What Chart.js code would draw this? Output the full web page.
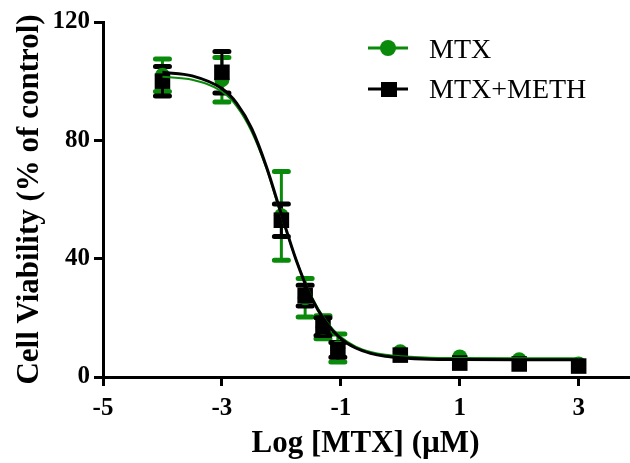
<!DOCTYPE html>
<html>
<head>
<meta charset="utf-8">
<script src="https://cdn.jsdelivr.net/npm/chart.js@4"></script>
<style>
  body { margin: 0; background: #fff; }
  #wrap { width: 630px; height: 463px; overflow: hidden; }
</style>
</head>
<body>
<div id="wrap"><canvas id="myChart" width="639" height="463"></canvas></div>
<script>
// measured points (log dose, mean, sd)
var doseX = [-4, -3, -2, -1.6, -1.3, -1.05, 0, 1, 2, 3];
var mtxY = [102, 100.5, 54.5, 26.8, 16.8, 9.8, 8.5, 6.8, 5.8, 4.4];
var mtxErr = [5.5, 7.5, 15, 6.5, 3.9, 4.7, 0, 0, 0, 0];
var methY = [100, 103, 53, 27.5, 17, 9.2, 7.4, 4.7, 4.4, 3.7];
var methErr = [5, 7, 5.5, 3.5, 3, 2.5, 0, 0, 0, 0];

// fitted curves
var curveX = [-4, -3.5, -3, -2.75, -2.5, -2.25, -2, -1.75, -1.5, -1.25, -1, -0.75, -0.5, -0.25, 0, 0.5, 1, 2, 3];
var mtxCurve = [101.5, 100.5, 96.5, 91.5, 83, 70.5, 54.5, 39.5, 27.5, 19, 13.5, 10.3, 8.5, 7.5, 7, 6.5, 6.4, 6.3, 6.3];
var methCurve = [103, 101.8, 97.5, 92.5, 84, 71, 55, 39.5, 27, 18.5, 13, 9.8, 8, 7, 6.5, 6, 5.9, 5.8, 5.8];

var xTickVals = [-5, -3, -1, 1, 3];
var yTickVals = [0, 40, 80, 120];

var green = '#0a8a0a';
var serif = '"Liberation Serif", "Times New Roman", serif';

function pts(xs, ys) {
  var out = [];
  for (var i = 0; i < xs.length; i++) out.push({x: xs[i], y: ys[i]});
  return out;
}

var errorBars = {
  id: 'errorBars',
  beforeDatasetsDraw: function(chart) {
    var ctx = chart.ctx;
    var xs = chart.scales.x, ys = chart.scales.y;
    var sets = [[mtxY, mtxErr, green], [methY, methErr, '#000']];
    sets.forEach(function(s) {
      ctx.save();
      ctx.strokeStyle = s[2];
      for (var i = 0; i < doseX.length; i++) {
        if (!s[1][i]) continue;
        var px = xs.getPixelForValue(doseX[i]);
        var top = ys.getPixelForValue(s[0][i] + s[1][i]);
        var bot = ys.getPixelForValue(s[0][i] - s[1][i]);
        ctx.lineWidth = 3;
        ctx.beginPath();
        ctx.moveTo(px, top); ctx.lineTo(px, bot);
        ctx.stroke();
        ctx.lineWidth = 5;
        ctx.lineCap = 'round';
        ctx.beginPath();
        ctx.moveTo(px - 7, top); ctx.lineTo(px + 7, top);
        ctx.moveTo(px - 7, bot); ctx.lineTo(px + 7, bot);
        ctx.stroke();
      }
      ctx.restore();
    });
  }
};

var legendDraw = {
  id: 'legendDraw',
  afterDraw: function(chart) {
    var ctx = chart.ctx;
    ctx.save();
    ctx.lineWidth = 3;
    ctx.strokeStyle = green; ctx.fillStyle = green;
    ctx.beginPath(); ctx.moveTo(368, 48); ctx.lineTo(408, 48); ctx.stroke();
    ctx.beginPath(); ctx.arc(388, 48, 8, 0, Math.PI * 2); ctx.fill();
    ctx.strokeStyle = '#000'; ctx.fillStyle = '#000';
    ctx.beginPath(); ctx.moveTo(368, 89); ctx.lineTo(408, 89); ctx.stroke();
    ctx.fillRect(381, 82, 16, 15);
    ctx.font = '28px ' + serif;
    ctx.textBaseline = 'alphabetic';
    ctx.fillText('MTX', 429, 58);
    ctx.fillText('MTX+METH', 429, 98);
    ctx.restore();
  }
};

var ctx = document.getElementById('myChart').getContext('2d');
var myChart = new Chart(ctx, {
  type: 'scatter',
  data: {
    datasets: [
      { label: 'MTX+METH fit', data: pts(curveX, methCurve), showLine: true, pointRadius: 0,
        borderColor: '#000', borderWidth: 3, cubicInterpolationMode: 'monotone', order: 0 },
      { label: 'MTX fit', data: pts(curveX, mtxCurve), showLine: true, pointRadius: 0,
        borderColor: green, borderWidth: 2, cubicInterpolationMode: 'monotone', order: 1 },
      { label: 'MTX+METH', data: pts(doseX, methY), pointStyle: 'rect', pointRadius: 11,
        backgroundColor: '#000', borderColor: '#000', borderWidth: 0, order: 2 },
      { label: 'MTX', data: pts(doseX, mtxY), pointStyle: 'circle', pointRadius: 7.5,
        backgroundColor: green, borderColor: green, borderWidth: 0, order: 3 }
    ]
  },
  options: {
    responsive: false,
    animation: false,
    layout: { padding: { top: 22, right: 0, left: 0, bottom: 0 } },
    plugins: { legend: { display: false }, tooltip: { enabled: false } },
    scales: {
      x: {
        type: 'linear', min: -5, max: 3.83,
        afterBuildTicks: function(s) { s.ticks = xTickVals.map(function(v) { return {value: v}; }); },
        afterFit: function(s) { s.height = 86; },
        grid: { drawOnChartArea: false, drawTicks: true, tickLength: 9, color: '#000', lineWidth: 3 },
        border: { color: '#000', width: 3 },
        ticks: { color: '#000', padding: 8, maxRotation: 0,
          font: { family: serif, size: 25, weight: 'bold' } },
        title: { display: true, text: 'Log [MTX] (\u00b5M)', color: '#000', padding: { top: 0, bottom: 0 },
          font: { family: serif, size: 31, weight: 'bold' } }
      },
      y: {
        min: 0, max: 120,
        afterBuildTicks: function(s) { s.ticks = yTickVals.map(function(v) { return {value: v}; }); },
        afterFit: function(s) { s.width = 103; },
        grid: { drawOnChartArea: false, drawTicks: true, tickLength: 9, color: '#000', lineWidth: 3 },
        border: { color: '#000', width: 3 },
        ticks: { color: '#000', padding: 4,
          font: { family: serif, size: 25, weight: 'bold' } },
        title: { display: true, text: 'Cell Viability (% of control)', color: '#000', padding: { top: 11, bottom: 0 },
          font: { family: serif, size: 31, weight: 'bold' } }
      }
    }
  },
  plugins: [errorBars, legendDraw]
});
</script>
</body>
</html>
